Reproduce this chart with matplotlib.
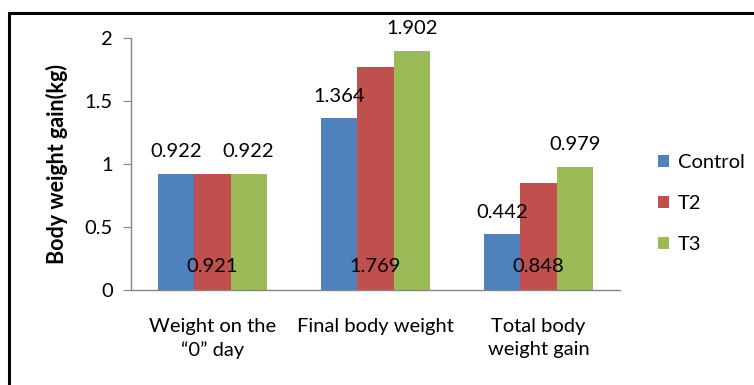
import matplotlib
matplotlib.use("Agg")
import matplotlib.pyplot as plt
from matplotlib.patches import Rectangle
import numpy as np

# Data
categories = ["Weight on the\n\u201c0\u201d day", "Final body weight", "Total body\nweight gain"]
control = [0.922, 1.364, 0.442]
t2 = [0.921, 1.769, 0.848]
t3 = [0.922, 1.902, 0.979]
series_names = ["Control", "T2", "T3"]
colors = ["#4F81BD", "#C0504D", "#9BBB59"]

plt.rcParams["font.family"] = ["Lato", "DejaVu Sans"]
FS = 14.5

W, H = 754, 385
fig = plt.figure(figsize=(W / 100, H / 100), dpi=100)

# plot area in pixel coords
x0, x1 = 131, 620
y_top, y_bot = 38.3, 290
ax = fig.add_axes([x0 / W, 1 - y_bot / H, (x1 - x0) / W, (y_bot - y_top) / H])

x = np.arange(len(categories))
bw = 0.222
for i, (vals, name, c) in enumerate(zip([control, t2, t3], series_names, colors)):
    ax.bar(x + (i - 1) * bw, vals, bw, color=c, label=name)

ax.set_xlim(-0.5, 2.5)
ax.set_ylim(0, 2)
ax.set_yticks([0, 0.5, 1, 1.5, 2])
ax.set_yticklabels(["0", "0.5", "1", "1.5", "2"])
ax.set_xticks(x)
ax.set_xticklabels(categories, fontsize=FS, linespacing=1.45)

for s in ["top", "right"]:
    ax.spines[s].set_visible(False)
for s in ["left", "bottom"]:
    ax.spines[s].set_color("#868686")
    ax.spines[s].set_linewidth(1)
ax.tick_params(axis="y", length=6, color="#868686", labelsize=FS, pad=7)
ax.tick_params(axis="x", length=0, pad=20)

ax.set_ylabel("Body weight gain(kg)", fontsize=15.5, fontweight="bold", labelpad=12)

# data labels: Control and T3 above the bars, T2 near the base
lbl_off = 0.175
for xi, v in zip(x - bw, control):
    ax.text(xi, v + lbl_off, f"{v:.3f}", ha="center", va="center", fontsize=FS)
for xi, v in zip(x + bw, t3):
    ax.text(xi, v + lbl_off, f"{v:.3f}", ha="center", va="center", fontsize=FS)
for xi, v in zip(x, t2):
    ax.text(xi, 0.185, f"{v:.3f}", ha="center", va="center", fontsize=FS)

ax.legend(loc="center left", bbox_to_anchor=(1.04, 0.343), frameon=False,
          fontsize=FS, handlelength=0.55, handleheight=0.55,
          handletextpad=0.45, labelspacing=1.2)

# outer frame
fig.patches.append(Rectangle((9 / W, -0.1), 1.2, 1 - 12.5 / H + 0.1,
                             transform=fig.transFigure, fill=False,
                             edgecolor="black", linewidth=2.2))

fig.savefig("out.png", dpi=100)
